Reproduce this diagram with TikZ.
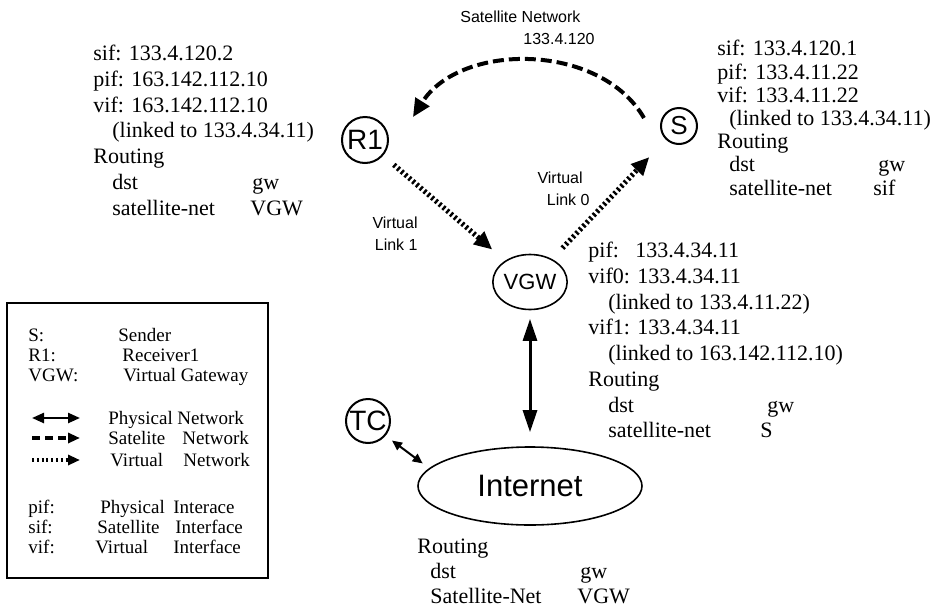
\documentclass[tikz,border=0pt]{standalone}
\usepackage{fontspec}
\setmainfont{Liberation Serif}
\setsansfont{Liberation Sans}
\usetikzlibrary{arrows.meta,shapes.geometric}
\newcommand{\infosize}{\fontsize{11}{12.85}\selectfont}
\newcommand{\keysize}{\fontsize{9.5}{10}\selectfont}
\newcommand{\tagsize}{\sffamily\fontsize{8}{11}\selectfont}
\newcommand{\rtcol}[3]{\makebox[#1][l]{#2}#3}

\begin{document}
\begin{tikzpicture}[x=0.5pt,y=-0.5pt,
  host/.style={draw,circle,line width=1pt,inner sep=0pt,font=\sffamily\fontsize{14}{14}\selectfont},
  cloud/.style={draw,ellipse,line width=0.8pt,inner sep=0pt},
  info/.style={anchor=north west,align=left,inner sep=0pt,font=\infosize},
  keytext/.style={anchor=base west,inner sep=0pt,font=\keysize},
  tag/.style={inner sep=0pt,font=\tagsize},
  satlink/.style={line width=2pt,dash pattern=on 5.5pt off 2.5pt,-{Triangle[length=9pt,width=8pt]}},
  virtlink/.style={line width=2.6pt,dash pattern=on 1.2pt off 1.3pt,-{Triangle[length=9pt,width=8pt]}},
  physlink/.style={line width=1.5pt,{Triangle[length=11pt,width=7pt]}-{Triangle[length=11pt,width=7pt]}},
  keyphys/.style={line width=1.2pt,{Triangle[length=6pt,width=5pt]}-{Triangle[length=6pt,width=5pt]}},
  keysat/.style={line width=1.6pt,dash pattern=on 4pt off 2.5pt,-{Triangle[length=6pt,width=5pt]}},
  keyvirt/.style={line width=1.6pt,dash pattern=on 1pt off 1.4pt,-{Triangle[length=6pt,width=5pt]}}]
\useasboundingbox (0,0) rectangle (950,606);

% hosts
\node[host,minimum size=23pt] (R1) at (365,140) {R1};
\node[host,minimum size=18pt,font=\sffamily\fontsize{13}{13}\selectfont] (S) at (679,126) {S};
\node[cloud,minimum width=34pt,minimum height=27.5pt,font=\sffamily\fontsize{11}{11}\selectfont] (VGW) at (530,282) {VGW};
\node[host,minimum size=22pt] (TC) at (368,421) {TC};
\node[cloud,minimum width=112pt,minimum height=39pt,font=\sffamily\fontsize{15.5}{15.5}\selectfont] (net) at (530,486) {Internet};

% links
\draw[satlink] ([shift={(-16,-8)}]S.west) .. controls (600,42) and (460,42) .. ([shift={(31,-6)}]R1.north east);
\draw[virtlink,shorten <=7pt,shorten >=8.5pt] (R1) -- (VGW);
\draw[virtlink,shorten <=7.5pt,shorten >=12pt] (VGW) -- (S);
\draw[physlink,shorten <=4.3pt,shorten >=7pt] (VGW) -- (net);
\draw[line width=1pt,{Triangle[length=5pt,width=4.5pt]}-{Triangle[length=5pt,width=4.5pt]},shorten <=4pt,shorten >=4pt] (TC.-40) -- (net.170);

\node[tag,anchor=north west,align=left] (satname) at (460,11) {Satellite Network\\\hspace*{31.5pt}133.4.120};
\node[tag,anchor=north east,align=right] (vlink1) at (418,217) {Virtual\\Link 1};
\node[tag,anchor=north east,align=right] (vlink0) at (590,172) {Virtual\hspace*{3.5pt}\\Link 0};

% interface and routing tables
\node[info] (R1info) at (93,45) {sif: 133.4.120.2\\
  pif: 163.142.112.10\\
  vif: 163.142.112.10\\
  \hspace*{9.5pt}(linked to 133.4.34.11)\\
  Routing\\
  \hspace*{9.5pt}\rtcol{70pt}{dst}gw\\
  \hspace*{9.5pt}\rtcol{69pt}{satellite-net}VGW};
\node[info,font=\fontsize{11}{11.6}\selectfont] (Sinfo) at (717,40) {sif: 133.4.120.1\\
  pif: 133.4.11.22\\
  vif: 133.4.11.22\\
  \hspace*{6pt}(linked to 133.4.34.11)\\
  Routing\\
  \hspace*{6pt}\rtcol{74.5pt}{dst}gw\\
  \hspace*{6pt}\rtcol{72pt}{satellite-net}sif};
\node[info] (VGWinfo) at (588,242) {\rlap{pif:}\phantom{vif0:} 133.4.34.11\\
  vif0: 133.4.34.11\\
  \hspace*{10pt}(linked to 133.4.11.22)\\
  vif1: 133.4.34.11\\
  \hspace*{10pt}(linked to 163.142.112.10)\\
  Routing\\
  \hspace*{10pt}\rtcol{79.5pt}{dst}gw\\
  \hspace*{10pt}\rtcol{76pt}{satellite-net}S};
\node[info,font=\fontsize{11}{12.5}\selectfont] (netinfo) at (417,539) {Routing\\
  \hspace*{6.5pt}\rtcol{75pt}{dst}gw\\
  \hspace*{6.5pt}\rtcol{73.5pt}{Satellite-Net}VGW};

% legend
\draw[line width=0.8pt] (7,303) rectangle (268,578);
\foreach \y/\x/\a/\b [count=\i] in {335/118/S:/Sender,355/122/R1:/Receiver1,375/123/VGW:/Virtual Gateway}{
  \node[keytext] (kn\i) at (28,\y+6) {\a};
  \node[keytext] (kd\i) at (\x,\y+6) {\b};
}
\foreach \y/\sty/\x/\a/\z [count=\i] in {418/keyphys/108/Physical/177,438/keysat/108/Satelite/182,460/keyvirt/110/Virtual/183}{
  \coordinate (kl\i) at (32,\y);
  \coordinate (kr\i) at (80,\y);
  \draw[\sty] (kl\i) -- (kr\i);
  \node[keytext] (ka\i) at (\x,\y+6) {\a};
  \node[keytext] (kb\i) at (\z,\y+6) {Network};
}
\foreach \y/\p/\x/\a/\z/\b [count=\i] in {507/pif:/100/Physical/173/Interace,527/sif:/97/Satellite/175/Interface,547/vif:/95/Virtual/173/Interface}{
  \node[keytext] (kp\i) at (28,\y+6) {\p};
  \node[keytext] (kq\i) at (\x,\y+6) {\a};
  \node[keytext] (ki\i) at (\z,\y+6) {\b};
}
\end{tikzpicture}
\end{document}
